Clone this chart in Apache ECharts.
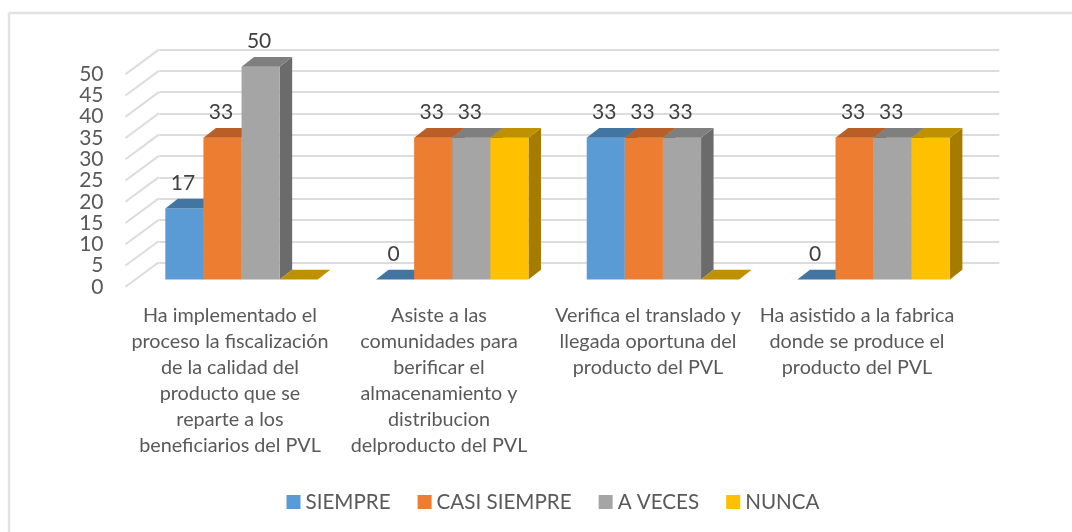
<!DOCTYPE html>
<html>
<head>
<meta charset="utf-8">
<style>html,body{margin:0;padding:0;background:#fff}#c{width:1072px;height:532px}</style>
<script src="https://cdn.jsdelivr.net/npm/echarts@6/dist/echarts.min.js"></script>
</head>
<body>
<div id="c"></div>
<script>
const categories = [
  "Ha implementado el\nproceso la fiscalización\nde la calidad del\nproducto que se\nreparte a los\nbeneficiarios del PVL",
  "Asiste a las\ncomunidades para\nberificar el\nalmacenamiento y\ndistribucion\ndelproducto del PVL",
  "Verifica el translado y\nllegada oportuna del\nproducto del PVL",
  "Ha asistido a la fabrica\ndonde se produce el\nproducto del PVL"
];
const siempre = [16.67, 0, 33.33, 0];
const casiSiempre = [33.33, 33.33, 33.33, 33.33];
const aVeces = [50, 33.33, 33.33, 33.33];
const nunca = [0, 33.33, 0, 33.33];
const seriesNames = ["SIEMPRE", "CASI SIEMPRE", "A VECES", "NUNCA"];
const frontColors = ["#5B9BD5", "#ED7D31", "#A5A5A5", "#FFC000"];
const topColors = ["#4375A2", "#B85E26", "#7F7F7F", "#BF9000"];
const sideColors = ["#3A6690", "#A3531F", "#6B6B6B", "#A67C00"];
const labelled = [true, true, true, false];
const yTicks = [0, 5, 10, 15, 20, 25, 30, 35, 40, 45, 50];

const FONT = "Lato, Carlito, sans-serif";
const BAR_DX = 12.5, BAR_DY = 9.7;      // bar depth projection
const WALL_DX = 33.3, WALL_DY = 24.6;   // floor depth projection
const GROUP_RATIO = 0.7236;             // bars' share of each category band

function barRenderer(si) {
  return function (params, api) {
    const cat = api.value(0), val = api.value(1);
    const base = api.coord([cat, 0]), top = api.coord([cat, val]);
    const band = api.size([1, 0])[0];
    const w = band * GROUP_RATIO / seriesNames.length;
    const x0 = base[0] - band * GROUP_RATIO / 2 + si * w, x1 = x0 + w;
    const y0 = base[1], y1 = top[1];
    const kids = [];
    if (val > 0) {
      kids.push({ type: 'polygon', shape: { points: [[x1, y0], [x1 + BAR_DX, y0 - BAR_DY], [x1 + BAR_DX, y1 - BAR_DY], [x1, y1]] }, style: { fill: sideColors[si] } });
      kids.push({ type: 'rect', shape: { x: x0, y: y1, width: w, height: y0 - y1 }, style: { fill: frontColors[si] } });
    }
    kids.push({ type: 'polygon', shape: { points: [[x0, y1], [x1, y1], [x1 + BAR_DX, y1 - BAR_DY], [x0 + BAR_DX, y1 - BAR_DY]] }, style: { fill: topColors[si] } });
    if (labelled[si]) {
      kids.push({ type: 'text', z2: 50, style: { text: String(Math.round(val)), x: (x0 + x1) / 2 - 1.5, y: y1 - 25, align: 'center', verticalAlign: 'middle', fontFamily: FONT, fontSize: 21, fill: '#404040' } });
    }
    return { type: 'group', children: kids };
  };
}

const seriesValues = [siempre, casiSiempre, aVeces, nunca];
const barSeries = seriesNames.map((name, si) => ({
  name, type: 'custom', xAxisIndex: 0, yAxisIndex: 0, z: 5 + si,
  itemStyle: { color: frontColors[si] },
  encode: { x: 0, y: 1 }, clip: false,
  renderItem: barRenderer(si),
  data: seriesValues[si].map((v, i) => [i, v])
}));

const wallSeries = {
  type: 'custom', xAxisIndex: 1, yAxisIndex: 1, z: 2, silent: true, clip: false,
  encode: { y: 0 },
  renderItem(params, api) {
    const y = api.coord([0, api.value(0)])[1];
    const x = params.coordSys.x;
    return { type: 'line', shape: { x1: x, y1: y, x2: x + WALL_DX, y2: y - WALL_DY }, style: { stroke: '#DCDCDC', lineWidth: 2 } };
  },
  data: yTicks.map(t => [t])
};

const axisOff = { show: false };
const option = {
  animation: false,
  backgroundColor: '#fff',
  grid: [
    { left: 136.2, width: 842.8, top: 66.7, height: 212.8 },
    { left: 125.5, width: 836, top: 74.2, height: 212.6 },
    { left: 159.3, width: 840, top: 49.3, height: 213.4 }
  ],
  xAxis: [
    { gridIndex: 0, type: 'category', data: categories, show: false },
    { gridIndex: 1, type: 'category', data: categories,
      axisLine: axisOff, axisTick: axisOff,
      axisLabel: { interval: 0, margin: 16, fontFamily: FONT, fontSize: 19.8, lineHeight: 26, color: '#595959' } },
    { gridIndex: 2, type: 'value', show: false, min: 0, max: 1 }
  ],
  yAxis: [
    { gridIndex: 0, type: 'value', min: 0, max: 50, interval: 5, show: false },
    { gridIndex: 1, type: 'value', min: 0, max: 50, interval: 5,
      axisLine: axisOff, axisTick: axisOff, splitLine: axisOff,
      axisLabel: { margin: 22, fontFamily: FONT, fontSize: 21, color: '#595959' } },
    { gridIndex: 2, type: 'value', min: 0, max: 50, interval: 5,
      axisLine: axisOff, axisTick: axisOff, axisLabel: axisOff,
      splitLine: { show: true, lineStyle: { color: '#DCDCDC', width: 2 } } }
  ],
  legend: {
    left: 286.5, top: 491.5, icon: 'rect', itemWidth: 14, itemHeight: 14, itemGap: 27, padding: 0,
    data: seriesNames,
    textStyle: { fontFamily: FONT, fontSize: 20.6, color: '#595959' }
  },
  graphic: [
    { type: 'line', shape: { x1: 9, y1: 13, x2: 1072, y2: 13 }, style: { stroke: '#E2E2E2', lineWidth: 2.5 } },
    { type: 'line', shape: { x1: 9, y1: 13, x2: 9, y2: 532 }, style: { stroke: '#E2E2E2', lineWidth: 2.5 } }
  ],
  series: [wallSeries, ...barSeries]
};
echarts.init(document.getElementById('c')).setOption(option);
</script>
</body>
</html>
